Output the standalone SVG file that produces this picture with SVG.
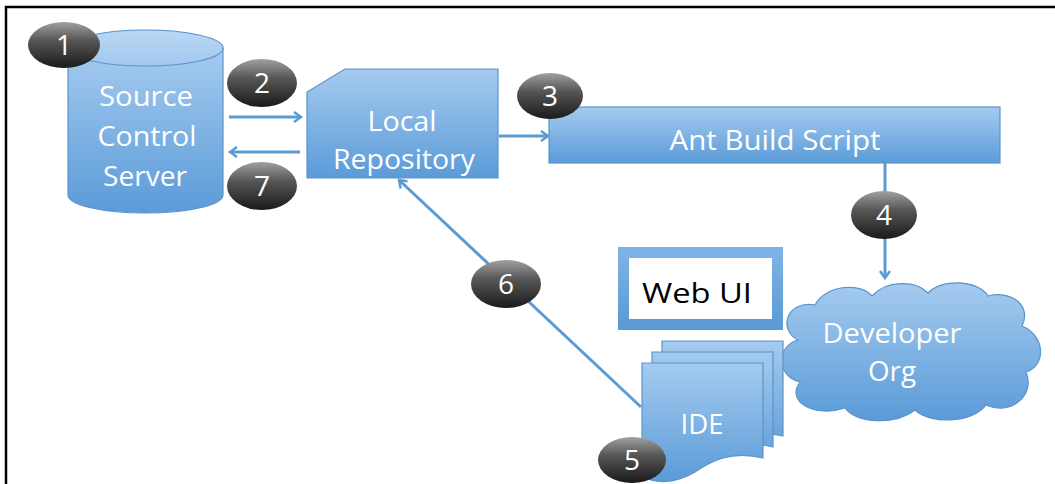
<svg xmlns="http://www.w3.org/2000/svg" width="1055" height="484" viewBox="0 0 1055 484">
<style>
.lbl{font-family:"Open Sans","Liberation Sans",sans-serif;font-size:28px;fill:#ffffff;text-anchor:middle}
.blk{font-family:"Open Sans","Liberation Sans",sans-serif;font-size:28px;fill:#000000;text-anchor:middle}
.num{font-family:"Open Sans","Liberation Sans",sans-serif;font-size:28px;fill:#ffffff;text-anchor:middle}
.shape{fill:url(#blue);stroke:#5b93cc;stroke-width:1.2}
.conn{fill:none;stroke:#5b9bd5;stroke-width:3}
.badge{fill:url(#dark)}
</style>
<defs>
<linearGradient id="blue" x1="0" y1="0" x2="0" y2="1">
<stop offset="0" stop-color="#a5cbef"/>
<stop offset="1" stop-color="#5b9bd8"/>
</linearGradient>
<linearGradient id="cyltop" x1="0" y1="0" x2="0" y2="1">
<stop offset="0" stop-color="#b9d8f4"/>
<stop offset="1" stop-color="#a2c8ee"/>
</linearGradient>
<linearGradient id="frame" x1="0" y1="0" x2="0" y2="1">
<stop offset="0" stop-color="#7fb2e5"/>
<stop offset="1" stop-color="#5b9bd5"/>
</linearGradient>
<linearGradient id="dark" x1="0" y1="0" x2="0" y2="1">
<stop offset="0" stop-color="#a0a0a0"/>
<stop offset="0.4" stop-color="#565656"/>
<stop offset="1" stop-color="#1a1a1a"/>
</linearGradient>
<marker id="arr" markerWidth="12" markerHeight="12" refX="9" refY="6" orient="auto" markerUnits="userSpaceOnUse">
<path d="M2,1 L9,6 L2,11" fill="none" stroke="#5b9bd5" stroke-width="2.5"/>
</marker>
</defs>
<rect width="1055" height="484" fill="#ffffff"/>
<path d="M6,484 V7 H1055" fill="none" stroke="#000" stroke-width="2.5"/>

<g id="connectors">
<line class="conn" x1="229" y1="117" x2="301" y2="117" marker-end="url(#arr)"/>
<line class="conn" x1="300" y1="152" x2="230" y2="152" marker-end="url(#arr)"/>
<line class="conn" x1="499" y1="136" x2="548" y2="136" marker-end="url(#arr)"/>
<line class="conn" x1="885" y1="163" x2="885" y2="278" marker-end="url(#arr)"/>
<line class="conn" x1="641" y1="407" x2="399" y2="180" marker-end="url(#arr)"/>
</g>

<g id="source-control-server">
<path class="shape" d="M68,48 V195 A77.5,18 0 0 0 223,195 V48 Z"/>
<ellipse cx="145.5" cy="48" rx="77.5" ry="18" fill="url(#cyltop)" stroke="#5b93cc" stroke-width="1.2"/>
<text class="lbl" x="146" y="106" textLength="94" lengthAdjust="spacingAndGlyphs">Source</text>
<text class="lbl" x="147" y="146" textLength="99" lengthAdjust="spacingAndGlyphs">Control</text>
<text class="lbl" x="145" y="186" textLength="84" lengthAdjust="spacingAndGlyphs">Server</text>
</g>

<g id="local-repository">
<path class="shape" d="M345,69 H498 V178 H307 V92 Z"/>
<text class="lbl" x="402" y="131" textLength="69" lengthAdjust="spacingAndGlyphs">Local</text>
<text class="lbl" x="404" y="169" textLength="142" lengthAdjust="spacingAndGlyphs">Repository</text>
</g>

<g id="ant-build-script">
<rect class="shape" x="549" y="107" width="451" height="56"/>
<text class="lbl" x="775" y="150" textLength="211" lengthAdjust="spacingAndGlyphs">Ant Build Script</text>
</g>

<g id="developer-org">
<path class="shape" d="M798,340 C778,330 786,300 815,305 C825,285 860,282 872,296 C886,280 916,280 928,293 C942,278 978,280 988,296 C1012,290 1032,306 1022,326 C1046,336 1046,366 1026,372 C1036,396 1010,416 986,405 C970,424 930,424 915,410 C896,425 856,424 845,408 C815,418 785,402 800,382 C776,376 776,346 798,340 Z"/>
<text class="lbl" x="892" y="343" textLength="139" lengthAdjust="spacingAndGlyphs">Developer</text>
<text class="lbl" x="892" y="381" textLength="48" lengthAdjust="spacingAndGlyphs">Org</text>
</g>

<g id="web-ui">
<rect x="623.5" y="252.5" width="154" height="72" fill="#ffffff" stroke="url(#frame)" stroke-width="11"/>
<text class="blk" x="697" y="303" textLength="110" lengthAdjust="spacingAndGlyphs">Web UI</text>
</g>

<g id="ide">
<path class="shape" stroke="#d6e6f6" d="M662,341 H783 V436 C750,428 730,440 715,450 C695,462 675,462 662,454 Z"/>
<path class="shape" stroke="#d6e6f6" d="M652,352 H773 V447 C740,439 720,451 705,461 C685,473 665,473 652,465 Z"/>
<path class="shape" stroke="#d6e6f6" d="M642,363 H763 V458 C730,450 710,462 695,472 C675,484 655,484 642,476 Z"/>
<text class="lbl" x="702" y="434" textLength="43" lengthAdjust="spacingAndGlyphs">IDE</text>
</g>

<g id="badge-1"><ellipse class="badge" cx="64" cy="45" rx="36" ry="23"/><text class="num" x="64" y="55">1</text></g>
<g id="badge-2"><ellipse class="badge" cx="262" cy="83" rx="35" ry="24"/><text class="num" x="262" y="93">2</text></g>
<g id="badge-3"><ellipse class="badge" cx="550" cy="96" rx="33" ry="23"/><text class="num" x="550" y="106">3</text></g>
<g id="badge-4"><ellipse class="badge" cx="884" cy="215" rx="33" ry="24"/><text class="num" x="884" y="225">4</text></g>
<g id="badge-5"><ellipse class="badge" cx="632" cy="460" rx="34" ry="23"/><text class="num" x="632" y="470">5</text></g>
<g id="badge-6"><ellipse class="badge" cx="506" cy="284" rx="35" ry="24"/><text class="num" x="506" y="294">6</text></g>
<g id="badge-7"><ellipse class="badge" cx="262" cy="186" rx="35" ry="24"/><text class="num" x="262" y="196">7</text></g>
</svg>
